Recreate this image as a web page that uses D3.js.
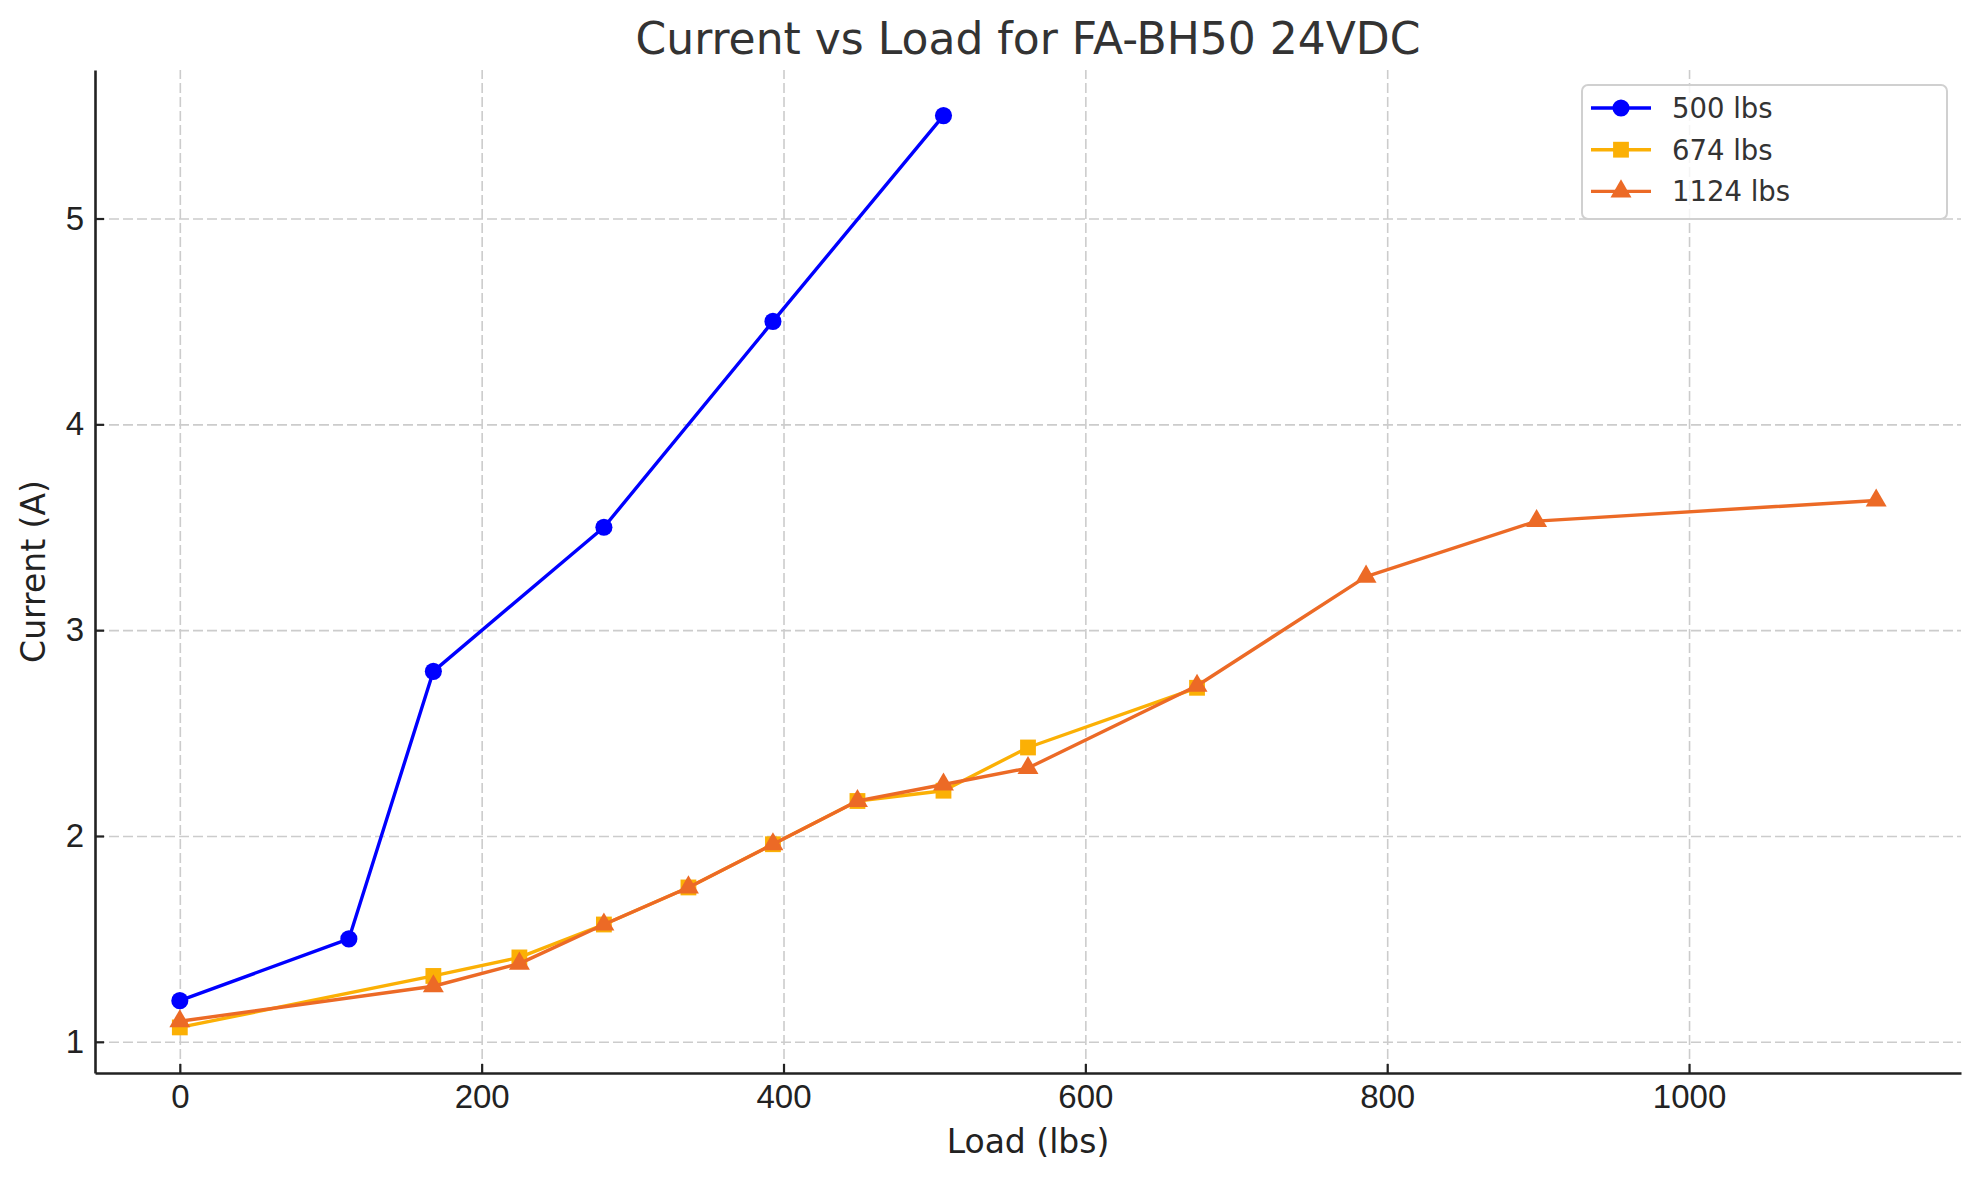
<!DOCTYPE html>
<html>
<head>
<meta charset="utf-8">
<script src="https://cdn.jsdelivr.net/npm/d3@7/dist/d3.min.js"></script>
<style>
  body { margin: 0; background: #fff; }
  svg { font-family: "DejaVu Sans", sans-serif; }
  .grid line { stroke: #cccccc; stroke-width: 1.6; stroke-dasharray: 10 4; }
  .grid path { display: none; }
  .axis path, .axis line { stroke: #222; }
  .axis path { stroke-width: 2.6; }
  .axis line { stroke-width: 2.2; }
  .axis text { font-size: 33px; fill: #222; }
</style>
</head>
<body>
<div id="chartArea"></div>
<script>
// data
const seriesNames = ['500 lbs', '674 lbs', '1124 lbs'];
const seriesColors = ['#0000ff', '#fbb005', '#ec6a26'];
const seriesMarkers = ['circle', 'square', 'triangle'];

const load500 = [0, 112, 168, 281, 393, 506];
const current500 = [1.2, 1.5, 2.8, 3.5, 4.5, 5.5];

const load674 = [0, 168, 225, 281, 337, 393, 449, 506, 562, 674];
const current674 = [1.07, 1.32, 1.41, 1.57, 1.75, 1.96, 2.17, 2.22, 2.43, 2.72];

const load1124 = [0, 168, 225, 281, 337, 393, 449, 506, 562, 674, 786, 899, 1124];
const current1124 = [1.1, 1.27, 1.38, 1.57, 1.75, 1.96, 2.17, 2.25, 2.33, 2.73, 3.26, 3.53, 3.63];

const xTicks = [0, 200, 400, 600, 800, 1000];
const yTicks = [1, 2, 3, 4, 5];

const series = [
  { loads: load500, currents: current500 },
  { loads: load674, currents: current674 },
  { loads: load1124, currents: current1124 }
].map((s, i) => ({
  name: seriesNames[i],
  color: seriesColors[i],
  marker: seriesMarkers[i],
  points: s.loads.map((l, j) => [l, s.currents[j]])
}));

const width = 1979;
const height = 1180;
const margin = { top: 70, left: 95, bottom: 107, right: 18 };
const iwidth = width - margin.left - margin.right;
const iheight = height - margin.top - margin.bottom;

const svg = d3.select('#chartArea').append('svg')
  .attr('width', width)
  .attr('height', height);

svg.append('rect').attr('width', width).attr('height', height).attr('fill', '#fff');

const g = svg.append('g')
  .attr('transform', `translate(${margin.left},${margin.top})`);

// matplotlib-like 5% padding on both axes
const allPts = series.flatMap((s) => s.points);
const xExt = d3.extent(allPts, (d) => d[0]);
const yExt = d3.extent(allPts, (d) => d[1]);
const xPad = (xExt[1] - xExt[0]) * 0.05;
const yPad = (yExt[1] - yExt[0]) * 0.05;

const x = d3.scaleLinear().domain([xExt[0] - xPad, xExt[1] + xPad]).range([0, iwidth]);
const y = d3.scaleLinear().domain([yExt[0] - yPad, yExt[1] + yPad]).range([iheight, 0]);

// Grid
g.append('g').attr('class', 'grid')
  .attr('transform', `translate(0,${iheight})`)
  .call(d3.axisBottom(x).tickValues(xTicks).tickSize(-iheight).tickFormat(''));
g.append('g').attr('class', 'grid')
  .call(d3.axisLeft(y).tickValues(yTicks).tickSize(-iwidth).tickFormat(''));

// Lines + markers
const line = d3.line().x((d) => x(d[0])).y((d) => y(d[1]));
const symbolType = { circle: d3.symbolCircle, square: d3.symbolSquare, triangle: d3.symbolTriangle };
const symbolSize = { circle: 230, square: 250, triangle: 190 };

series.forEach((s) => {
  g.append('path')
    .datum(s.points)
    .attr('fill', 'none')
    .attr('stroke', s.color)
    .attr('stroke-width', 3.4)
    .attr('stroke-linejoin', 'round')
    .attr('d', line);

  g.selectAll(null)
    .data(s.points)
    .enter()
    .append('path')
    .attr('transform', (d) => `translate(${x(d[0])},${y(d[1])})`)
    .attr('d', d3.symbol().type(symbolType[s.marker]).size(symbolSize[s.marker]))
    .attr('fill', s.color);
});

// Axes (ticks pointing inward)
g.append('g').attr('class', 'axis')
  .attr('transform', `translate(0,${iheight})`)
  .call(d3.axisBottom(x).tickValues(xTicks).tickFormat(d3.format('d'))
    .tickSizeInner(-9).tickSizeOuter(0).tickPadding(12));
g.append('g').attr('class', 'axis')
  .call(d3.axisLeft(y).tickValues(yTicks).tickFormat(d3.format('d'))
    .tickSizeInner(-9).tickSizeOuter(0).tickPadding(11));

// Titles
svg.append('text')
  .attr('x', margin.left + iwidth / 2)
  .attr('y', 54)
  .attr('text-anchor', 'middle')
  .attr('font-size', 44)
  .attr('fill', '#333')
  .text('Current vs Load for FA-BH50 24VDC');

svg.append('text')
  .attr('x', margin.left + iwidth / 2)
  .attr('y', 1153)
  .attr('text-anchor', 'middle')
  .attr('font-size', 33)
  .attr('fill', '#222')
  .text('Load (lbs)');

svg.append('text')
  .attr('transform', `translate(45,${margin.top + iheight / 2}) rotate(-90)`)
  .attr('text-anchor', 'middle')
  .attr('font-size', 33)
  .attr('fill', '#222')
  .text('Current (A)');

// Legend
const legend = svg.append('g').attr('transform', 'translate(1582,85)');
legend.append('rect')
  .attr('width', 365).attr('height', 134)
  .attr('rx', 6)
  .attr('fill', 'rgba(255,255,255,0.8)')
  .attr('stroke', '#d0d0d0')
  .attr('stroke-width', 2);

series.forEach((s, i) => {
  const row = legend.append('g').attr('transform', `translate(0,${23 + i * 41.7})`);
  row.append('line')
    .attr('x1', 9).attr('x2', 69)
    .attr('stroke', s.color).attr('stroke-width', 3.4);
  row.append('path')
    .attr('transform', 'translate(39,0)')
    .attr('d', d3.symbol().type(symbolType[s.marker]).size(symbolSize[s.marker]))
    .attr('fill', s.color);
  row.append('text')
    .attr('x', 90).attr('y', 10)
    .attr('font-size', 27.5)
    .attr('fill', '#333')
    .text(s.name);
});
</script>
</body>
</html>
